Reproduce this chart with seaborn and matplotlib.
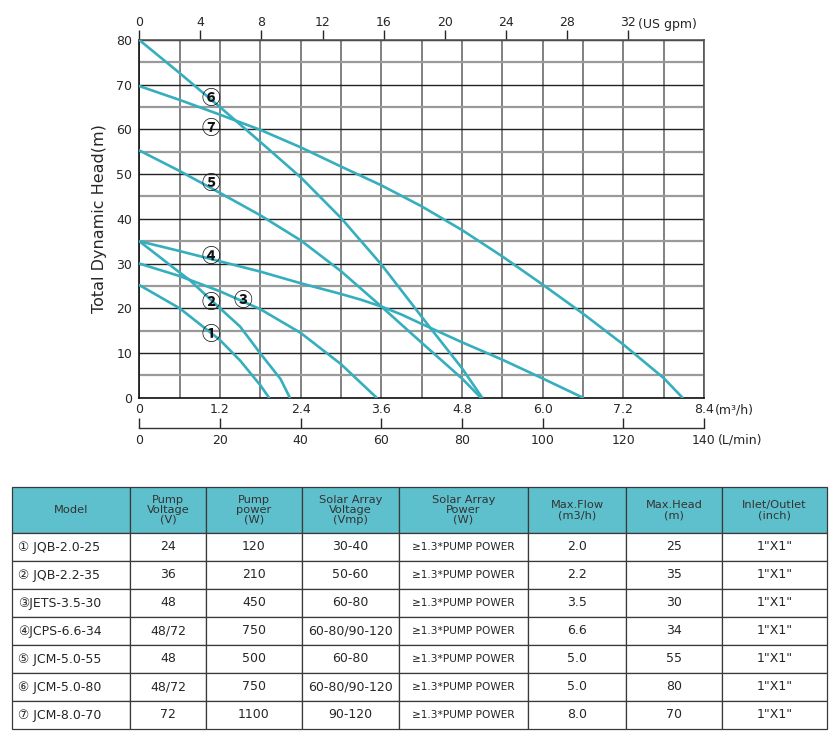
import numpy as np
import pandas as pd
import matplotlib
matplotlib.use('Agg')
import matplotlib.pyplot as plt
import seaborn as sns

# =====================
# DATA (flow in m3/h, head in m)
# =====================
models = ['1', '2', '3', '4', '5', '6', '7']

flow_1 = [0, 0.6, 1.2, 1.5, 1.8, 1.93]
head_1 = [25.2, 20.0, 12.9, 8.3, 2.8, 0]

flow_2 = [0, 0.6, 0.75, 1.2, 1.5, 1.8, 2.1, 2.24]
head_2 = [35, 28, 26.3, 20, 15.9, 9.9, 4.2, 0]

flow_3 = [0, 0.6, 1.2, 1.8, 2.4, 3.0, 3.53]
head_3 = [30, 27.2, 23.8, 19.8, 14.5, 7.5, 0]

flow_4 = [0, 0.6, 1.2, 1.8, 2.4, 3.0, 3.3, 3.6, 3.9, 4.2, 4.8, 5.4, 6.0, 6.6]
head_4 = [35, 32.8, 30.5, 28.2, 25.6, 23.2, 21.9, 20.4, 18.6, 16.5, 12.4, 8.5, 4.3, 0]

flow_5 = [0, 0.6, 1.2, 1.8, 2.4, 3.0, 3.6, 4.2, 4.8, 5.08]
head_5 = [55.3, 50.7, 45.8, 40.8, 35.2, 28.3, 20.4, 12.3, 4.3, 0]

flow_6 = [0, 0.6, 1.2, 1.8, 2.4, 3.0, 3.6, 4.35, 4.8, 5.1]
head_6 = [80, 72.6, 65, 57.2, 49.3, 40.2, 29.8, 15.2, 6.6, 0]

flow_7 = [0, 0.6, 1.2, 1.8, 2.4, 3.0, 3.6, 4.2, 4.8, 5.4, 6.0, 6.6, 7.2, 7.8, 8.08]
head_7 = [69.7, 66.6, 63.3, 59.9, 56.0, 51.7, 47.5, 42.8, 37.5, 31.6, 25.3, 18.8, 11.9, 4.4, 0]

label_text = ['①', '②', '③', '④', '⑤', '⑥', '⑦']
label_x = [1.07, 1.07, 1.54, 1.07, 1.07, 1.07, 1.07]
label_y = [14.2, 21.2, 21.8, 31.5, 48.0, 67.0, 60.3]

m3h_ticks = [0, 1.2, 2.4, 3.6, 4.8, 6.0, 7.2, 8.4]
m3h_labels = ['0', '1.2', '2.4', '3.6', '4.8', '6.0', '7.2', '8.4']
gpm_ticks = [0, 4, 8, 12, 16, 20, 24, 28, 32]
lmin_ticks = [0, 20, 40, 60, 80, 100, 120, 140]

headers = ['Model', 'Pump\nVoltage\n(V)', 'Pump\npower\n(W)', 'Solar Array\nVoltage\n(Vmp)',
           'Solar Array\nPower\n(W)', 'Max.Flow\n(m3/h)', 'Max.Head\n(m)', 'Inlet/Outlet\n(inch)']
col_model = ['① JQB-2.0-25', '② JQB-2.2-35', '③JETS-3.5-30', '④JCPS-6.6-34',
             '⑤ JCM-5.0-55', '⑥ JCM-5.0-80', '⑦ JCM-8.0-70']
col_voltage = ['24', '36', '48', '48/72', '48', '48/72', '72']
col_power = ['120', '210', '450', '750', '500', '750', '1100']
col_vmp = ['30-40', '50-60', '60-80', '60-80/90-120', '60-80', '60-80/90-120', '90-120']
col_solar = ['≥1.3*PUMP POWER'] * 7
col_flow = ['2.0', '2.2', '3.5', '6.6', '5.0', '5.0', '8.0']
col_head = ['25', '35', '30', '34', '55', '80', '70']
col_inlet = ['1"X1"'] * 7

curve_color = '#35AEBD'
header_color = '#5EC0CD'
text_color = '#262626'

# long-form table for seaborn
frames = []
for m, fx, hy in zip(models,
                     [flow_1, flow_2, flow_3, flow_4, flow_5, flow_6, flow_7],
                     [head_1, head_2, head_3, head_4, head_5, head_6, head_7]):
    frames.append(pd.DataFrame({'flow': fx, 'head': hy, 'model': m}))
df = pd.concat(frames, ignore_index=True)

# =====================
# STYLE
# =====================
sns.set_style('white')
plt.rcParams['font.family'] = ['DejaVu Sans', 'Noto Sans CJK SC']

fig = plt.figure(figsize=(8.39, 7.36), dpi=100, facecolor='white')
ax = fig.add_axes([139.3 / 839, 1 - 397.7 / 736, 564.7 / 839, 357.7 / 736])

sns.lineplot(data=df, x='flow', y='head', hue='model', units='model', estimator=None,
             palette={m: curve_color for m in models}, linewidth=1.9,
             legend=False, ax=ax, zorder=5)

ax.set_xlim(0, 8.4)
ax.set_ylim(0, 80)

# grid
ax.set_xticks(m3h_ticks)
ax.set_xticks(np.arange(0.6, 8.4, 1.2), minor=True)
ax.set_yticks(range(0, 81, 10))
ax.set_yticks(range(5, 80, 10), minor=True)
ax.grid(False)
ax.xaxis.grid(True, which='both', color='#5f5f5f', linewidth=1.1)
ax.yaxis.grid(True, which='major', color='#222222', linewidth=1.0)
ax.yaxis.grid(True, which='minor', color='#9a9a9a', linewidth=1.6)
ax.set_axisbelow(True)

for s in ['top', 'right']:
    ax.spines[s].set_color('#555555')
    ax.spines[s].set_linewidth(1.2)
for s in ['left', 'bottom']:
    ax.spines[s].set_color('#111111')
    ax.spines[s].set_linewidth(1.2)

ax.set_xticklabels(m3h_labels)
ax.tick_params(axis='x', which='both', length=0, pad=4, labelsize=9, colors=text_color)
ax.tick_params(axis='y', which='both', length=0, pad=5, labelsize=9, colors=text_color)
ax.set_xlabel('')
ax.set_ylabel('Total Dynamic Head(m)', fontsize=11.5, color=text_color, labelpad=7)

ax.annotate('(m³/h)', xy=(8.4, 0), xycoords=('data', 'axes fraction'),
            xytext=(8, -8.5), textcoords='offset points', ha='left', va='center',
            fontsize=9, color=text_color)

# top axis: US gpm
gpm = ax.secondary_xaxis('top', functions=(lambda q: q * 4.403, lambda g: g / 4.403))
gpm.set_xticks(gpm_ticks)
gpm.set_xticklabels([str(t) for t in gpm_ticks])
gpm.tick_params(direction='out', length=7, width=1, pad=1, labelsize=9, colors=text_color)
gpm.spines['top'].set_visible(False)
ax.annotate('(US gpm)', xy=(32 / 4.403, 1), xycoords=('data', 'axes fraction'),
            xytext=(7, 11), textcoords='offset points', ha='left', va='center',
            fontsize=9, color=text_color)

# bottom axis: L/min
lmin = ax.secondary_xaxis(-0.0847, functions=(lambda q: q * 1000 / 60, lambda l: l * 0.06))
lmin.set_xticks(lmin_ticks)
lmin.set_xticklabels([str(t) for t in lmin_ticks])
lmin.tick_params(direction='in', length=7, width=1, pad=4, labelsize=9, colors=text_color)
lmin.spines['bottom'].set_color('#333333')
lmin.spines['bottom'].set_linewidth(1.0)
ax.annotate('(L/min)', xy=(8.4, -0.0847), xycoords=('data', 'axes fraction'),
            xytext=(10, -8.8), textcoords='offset points', ha='left', va='center',
            fontsize=9, color=text_color)

# circled model numbers
for t, lx, ly in zip(label_text, label_x, label_y):
    ax.text(lx, ly, t, fontsize=13.5, ha='center', va='center', color='#111111',
            family=['Noto Sans CJK SC', 'DejaVu Sans'], fontweight='bold', zorder=6)

# =====================
# TABLE
# =====================
col_px = [118, 76, 96, 97, 129, 98, 96, 105]
col_w = [c / sum(col_px) for c in col_px]
rows = list(zip(col_model, col_voltage, col_power, col_vmp, col_solar, col_flow, col_head, col_inlet))

tax = fig.add_axes([12 / 839, 7 / 736, 815 / 839, 242 / 736])
tax.axis('off')
tbl = tax.table(cellText=rows, colLabels=headers, colWidths=col_w,
                cellLoc='center', bbox=[0, 0, 1, 1])
tbl.auto_set_font_size(False)
for (r, c), cell in tbl.get_celld().items():
    cell.set_edgecolor('#3a3a3a')
    cell.set_linewidth(0.9)
    txt = cell.get_text()
    if r == 0:
        cell.set_facecolor(header_color)
        cell.set_height(46)
        txt.set_fontsize(8.2)
        txt.set_color('#333333')
        txt.set_linespacing(1.0)
    else:
        cell.set_height(28)
        txt.set_color(text_color)
        txt.set_fontsize(9)
        if c == 4:
            txt.set_fontsize(7.6)
        if c == 0:
            cell._loc = 'left'
            cell.PAD = 0.05
            txt.set_ha('left')

fig.savefig('out.png', dpi=100, facecolor='white')
